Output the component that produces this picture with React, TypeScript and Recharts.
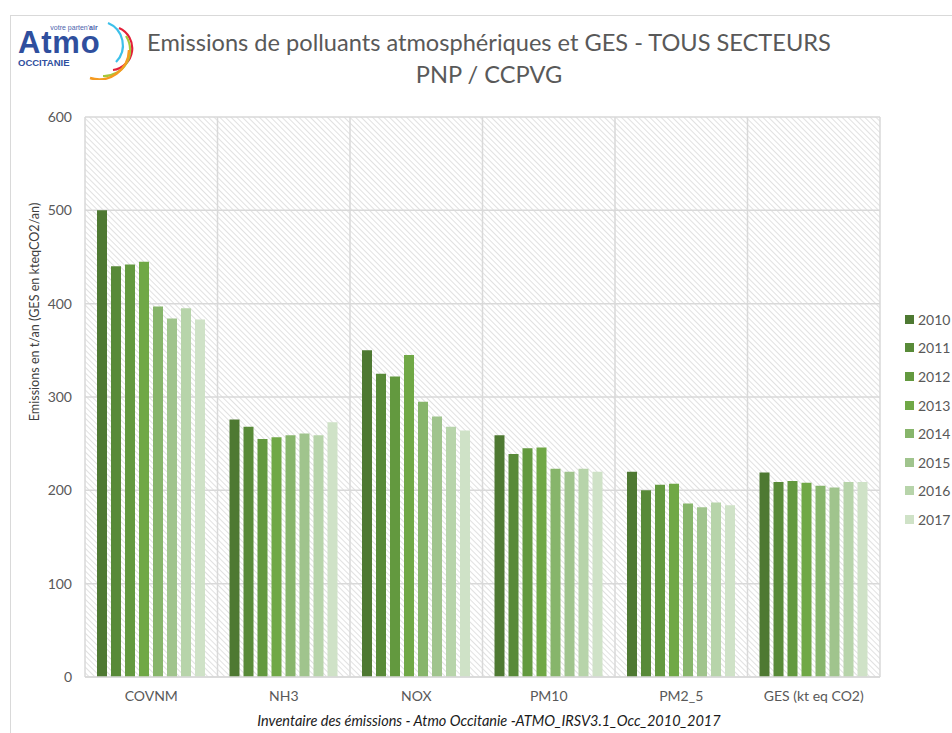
import { BarChart, Bar, XAxis, YAxis, CartesianGrid } from "recharts";

const categories = ["COVNM", "NH3", "NOX", "PM10", "PM2_5", "GES (kt eq CO2)"];
const years = ["2010", "2011", "2012", "2013", "2014", "2015", "2016", "2017"];

const v2010 = [500, 276, 350, 259, 220, 219];
const v2011 = [440, 268, 325, 239, 200, 209];
const v2012 = [442, 255, 322, 245, 206, 210];
const v2013 = [445, 257, 345, 246, 207, 208];
const v2014 = [397, 259, 295, 223, 186, 205];
const v2015 = [384, 261, 279, 220, 182, 203];
const v2016 = [395, 259, 268, 223, 187, 209];
const v2017 = [383, 273, 264, 220, 184, 209];

const yTicks = [0, 100, 200, 300, 400, 500, 600];

const colors = ["#4e7932", "#588a38", "#63993f", "#70a846", "#87b56b", "#a0c48d", "#b7d4aa", "#cfe2c7"];

const seriesValues = [v2010, v2011, v2012, v2013, v2014, v2015, v2016, v2017];

const data = categories.map((c, i) => {
  const row: Record<string, string | number> = { name: c };
  years.forEach((y, j) => {
    row[y] = seriesValues[j][i];
  });
  return row;
});

const FONT = "Lato, 'Open Sans', sans-serif";

// legend drawn outside the chart so it doesn't eat plot width
function LegendBox() {
  return (
    <div style={{ position: "absolute", left: 905, top: 305, fontFamily: FONT, fontSize: 14, color: "#595959" }}>
      {years.map((y, i) => (
        <div key={y} style={{ display: "flex", alignItems: "center", height: 28.6 }}>
          <span style={{ display: "inline-block", width: 9, height: 9, background: colors[i], marginRight: 4 }} />
          {y}
        </div>
      ))}
    </div>
  );
}

function Logo() {
  return (
    <svg width={120} height={64} style={{ position: "absolute", left: 14, top: 16 }}>
      <text x={60} y={14} textAnchor="middle" fontFamily="Arial, sans-serif" fontSize={7} fill="#4a63ad">
        votre parten'<tspan fontWeight="bold">air</tspan>
      </text>
      <text x={4} y={37} fontFamily="Arial, sans-serif" fontWeight="bold" fontSize={31} fill="#2f4f9e" letterSpacing={0.8}>
        Atmo
      </text>
      <text x={4} y={50} fontFamily="Arial, sans-serif" fontWeight="bold" fontSize={9.5} fill="#2f4f9e">
        OCCITANIE
      </text>
      <path d="M 94 7 A 24 24 0 0 1 102 46" stroke="#3cc0ea" strokeWidth={2.2} fill="none" />
      <path d="M 105 12 A 22 22 0 0 1 99 54" stroke="#e3203a" strokeWidth={2.2} fill="none" />
      <path d="M 112 20 A 26 26 0 0 1 89 60" stroke="#a6c83a" strokeWidth={2.2} fill="none" />
      <path d="M 115 34 A 30 30 0 0 1 76 62" stroke="#f59b21" strokeWidth={2.4} fill="none" />
    </svg>
  );
}

export default function App() {
  return (
    <div style={{ position: "absolute", left: 0, top: 0, width: 952, height: 733, background: "#fff", overflow: "hidden" }}>
      <div style={{ position: "absolute", left: 10, top: 15, width: 960, height: 740, border: "1px solid #d9d9d9", boxSizing: "border-box" }} />
      <Logo />
      <div style={{ position: "absolute", left: 0, width: 978, top: 26, textAlign: "center", fontFamily: FONT, fontSize: 23.6, color: "#595959", lineHeight: "32px" }}>
        Emissions de polluants atmosphériques et GES - TOUS SECTEURS
        <br />
        PNP / CCPVG
      </div>
      <div style={{ position: "absolute", left: 0, width: 978, top: 712, textAlign: "center", fontFamily: FONT, fontSize: 14.5, fontStyle: "italic", color: "#1a1a1a" }}>
        Inventaire des émissions - Atmo Occitanie -ATMO_IRSV3.1_Occ_2010_2017
      </div>
      <div style={{ position: "absolute", left: 34, top: 312, transform: "translate(-50%, -50%) rotate(-90deg)", whiteSpace: "nowrap", fontFamily: FONT, fontSize: 12.6, color: "#404040" }}>
        Emissions en t/an (GES en kteqCO2/an)
      </div>
      <LegendBox />
      <div style={{ position: "absolute", left: 0, top: 0 }}>
        <BarChart
          width={952}
          height={733}
          data={data}
          margin={{ top: 117, right: 72, bottom: 0, left: 0 }}
          barCategoryGap={12}
          barGap={4}
        >
          <defs>
            <pattern id="hatch" width={4} height={4} patternUnits="userSpaceOnUse" patternTransform="rotate(-45)">
              <rect width={4} height={4} fill="#ffffff" />
              <line x1={0} y1={0} x2={0} y2={4} stroke="#dadada" strokeWidth={1.6} />
            </pattern>
          </defs>
          <CartesianGrid
            fill="url(#hatch)"
            fillOpacity={1}
            stroke="#d9d9d9"
            strokeWidth={1.5}
            verticalCoordinatesGenerator={({ offset }: any) =>
              categories.concat([""]).map((_, i) => offset.left + (i * offset.width) / categories.length)
            }
          />
          <XAxis
            dataKey="name"
            height={56}
            axisLine={{ stroke: "#d9d9d9", strokeWidth: 1.5 }}
            tickLine={false}
            tickSize={0}
            tickMargin={14}
            tick={{ fontFamily: FONT, fontSize: 14, fill: "#595959" }}
            interval={0}
          />
          <YAxis
            width={85}
            domain={[0, 600]}
            ticks={yTicks}
            axisLine={false}
            tickLine={false}
            tickSize={0}
            tickMargin={13}
            tick={{ fontFamily: FONT, fontSize: 14, fill: "#595959" }}
          />
          {years.map((y, i) => (
            <Bar key={y} dataKey={y} fill={colors[i]} isAnimationActive={false} />
          ))}
        </BarChart>
      </div>
    </div>
  );
}
